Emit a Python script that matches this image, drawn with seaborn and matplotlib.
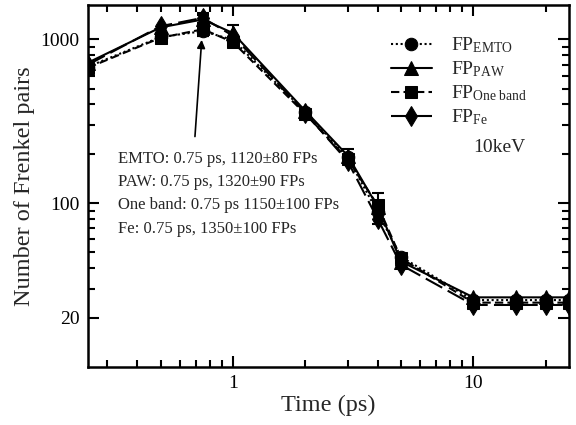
import matplotlib
matplotlib.use("Agg")
import matplotlib.pyplot as plt
from matplotlib.ticker import FixedLocator, LogLocator, NullFormatter, FixedFormatter
import seaborn as sns
import pandas as pd

# Frenkel pair counts vs. simulation time for a 10 keV cascade
time_ps = [0.25, 0.5, 0.75, 1, 2, 3, 4, 5, 10, 15, 20, 25]
fp_emto = [680, 1030, 1120, 990, 360, 190, 88, 47, 25.6, 25.6, 25.6, 25.6]
fp_paw = [720, 1180, 1320, 1090, 365, 195, 95, 44, 26.6, 26.6, 26.6, 26.6]
fp_oneband = [670, 1020, 1150, 960, 350, 185, 97, 46, 24.7, 24.7, 24.7, 24.7]
fp_fe = [700, 1200, 1350, 1050, 355, 180, 80, 42, 23.9, 23.9, 23.9, 23.9]

# error bars (shown only where they were reported)
err_emto = [0, 0, 80, 0, 0, 0, 0, 0, 0, 0, 0, 0]
err_paw = [0, 0, 90, 130, 0, 20, 20, 0, 0, 0, 0, 0]
err_oneband = [0, 0, 100, 0, 0, 0, 0, 0, 0, 0, 0, 0]
err_fe = [0, 0, 100, 0, 0, 0, 0, 0, 0, 0, 0, 0]

series_names = ["EMTO", "PAW", "One band", "Fe"]
legend_labels = [r"FP$_{\mathrm{EMTO}}$", r"FP$_{\mathrm{PAW}}$",
                 r"FP$_{\mathrm{One\ band}}$", r"FP$_{\mathrm{Fe}}$"]
y_ticks = [20, 100, 1000]
x_ticks = [1, 10]

sns.set_style("ticks")
plt.rcParams["font.family"] = ["Liberation Serif", "DejaVu Serif"]
plt.rcParams["mathtext.fontset"] = "custom"
plt.rcParams["mathtext.rm"] = "Liberation Serif"
plt.rcParams["mathtext.it"] = "Liberation Serif:italic"

fig = plt.figure(figsize=(5.76, 4.25), dpi=100)
ax = fig.add_axes([0.153, 0.1365, 0.835, 0.851])

values = [fp_emto, fp_paw, fp_oneband, fp_fe]
errors = [err_emto, err_paw, err_oneband, err_fe]
markers = ["o", "^", "s", "d"]
dashes = [(1, 1.3), "", (4, 2), (9, 3)]
msizes = [9, 9.5, 8.5, 10]

for name, lab, vals, errs, mk, ds, ms in zip(series_names, legend_labels, values,
                                               errors, markers, dashes, msizes):
    df = pd.DataFrame({"time": time_ps, "fp": vals})
    kw = {}
    if ds != "":
        kw["dashes"] = ds
    sns.lineplot(data=df, x="time", y="fp", ax=ax, color="black", lw=1.5,
                 marker=mk, markersize=ms, markeredgecolor="black",
                 label=lab, **kw)
    t_e = [t for t, e in zip(time_ps, errs) if e > 0]
    v_e = [v for v, e in zip(vals, errs) if e > 0]
    e_e = [e for e in errs if e > 0]
    ax.errorbar(t_e, v_e, yerr=e_e, fmt="none", ecolor="black",
                elinewidth=1.5, capsize=4, capthick=1.5)

ax.set_xscale("log")
ax.set_yscale("log")
ax.set_xlim(0.25, 25)
ax.set_ylim(10, 1610)

ax.xaxis.set_major_locator(FixedLocator(x_ticks))
ax.xaxis.set_major_formatter(FixedFormatter([str(t) for t in x_ticks]))
ax.xaxis.set_minor_locator(LogLocator(base=10, subs=range(2, 10), numticks=20))
ax.xaxis.set_minor_formatter(NullFormatter())
ax.yaxis.set_major_locator(FixedLocator(y_ticks))
ax.yaxis.set_major_formatter(FixedFormatter([str(t) for t in y_ticks]))
ax.yaxis.set_minor_locator(LogLocator(base=10, subs=range(2, 10), numticks=20))
ax.yaxis.set_minor_formatter(NullFormatter())

ax.tick_params(which="both", direction="in", top=True, right=True, width=1.5,
               labelsize=14, colors="black")
ax.tick_params(which="major", length=8, pad=6)
ax.tick_params(which="minor", length=5)
for sp in ax.spines.values():
    sp.set_linewidth(1.8)
    sp.set_color("black")

ax.set_xlabel("Time (ps)", fontsize=17.5, labelpad=2)
ax.set_ylabel("Number of Frenkel pairs", fontsize=17.5, labelpad=4)

leg = ax.legend(loc="upper right", bbox_to_anchor=(0.95, 0.965), frameon=False,
                fontsize=14, handlelength=2.1, handletextpad=1.0,
                labelspacing=0.22)
ax.text(0.80, 0.608, "10keV", transform=ax.transAxes, fontsize=14,
        va="center", ha="left")

ax.annotate("", xy=(0.743, 1030), xytext=(0.694, 245),
            arrowprops=dict(arrowstyle="-|>", color="black", lw=1.2,
                            mutation_scale=12))
ax.text(0.062, 0.597,
        "EMTO: 0.75 ps, 1120\u00b180 FPs\n"
        "PAW: 0.75 ps, 1320\u00b190 FPs\n"
        "One band: 0.75 ps 1150\u00b1100 FPs\n"
        "Fe: 0.75 ps, 1350\u00b1100 FPs",
        transform=ax.transAxes, fontsize=12, va="top", ha="left",
        linespacing=1.6)

fig.savefig("out.png", dpi=100)
